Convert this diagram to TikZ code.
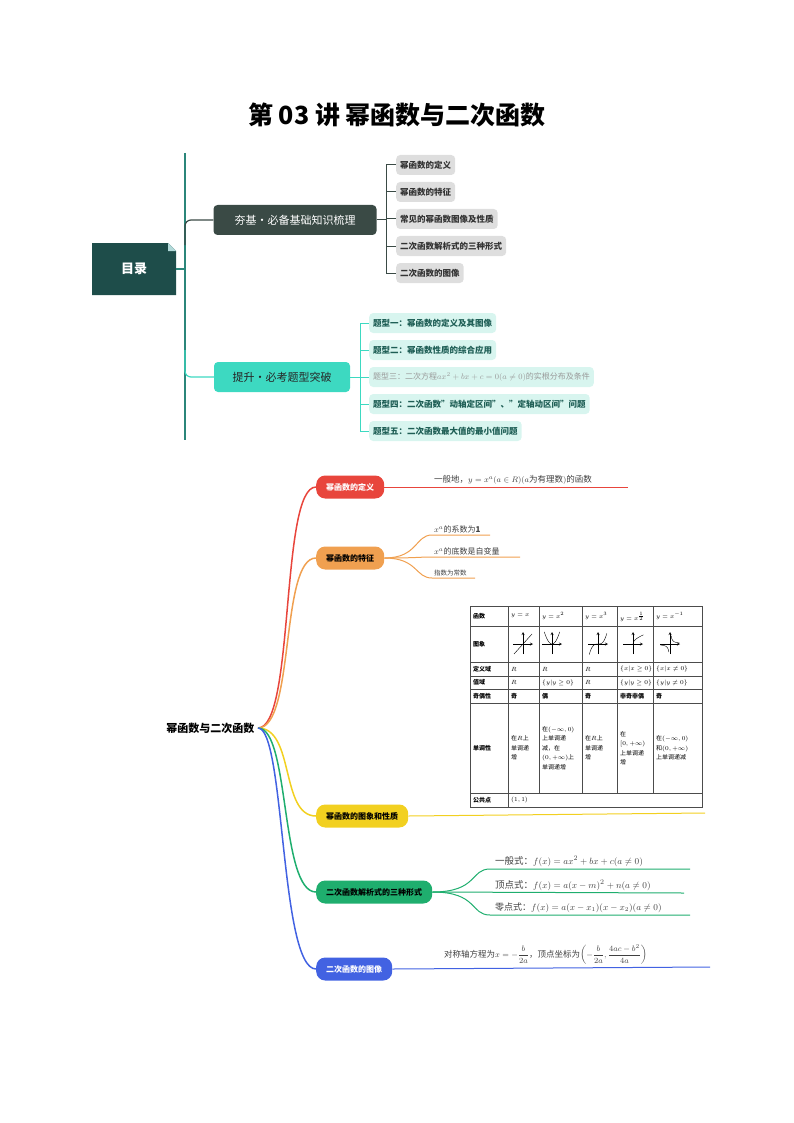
\documentclass[tikz,border=0pt]{standalone}
\usepackage{fontspec}
\usepackage{amsmath}
\setmainfont{Noto Sans CJK SC}
\definecolor{cR}{HTML}{E8453C}\definecolor{cO}{HTML}{F0A050}\definecolor{cY}{HTML}{F2D020}
\definecolor{cG}{HTML}{1FAE6E}\definecolor{cB}{HTML}{4262E2}
\definecolor{tocDark}{HTML}{1E4D4A}\definecolor{bOne}{HTML}{3A4A45}\definecolor{bTwo}{HTML}{3DD9C1}
\definecolor{tLight}{HTML}{D8F5EF}\definecolor{tText}{HTML}{1E5E55}\definecolor{lineT}{HTML}{3DBFAE}
\begin{document}
\begin{tikzpicture}[x=1pt,y=-1pt,
  tocA/.style={fill=black!13,rounded corners=4pt,inner xsep=4pt,anchor=west,font=\fontsize{8.5}{9}\selectfont\bfseries,text=black!80,minimum height=20pt},
  tocB/.style={fill=tLight,rounded corners=4pt,inner xsep=4pt,anchor=west,font=\fontsize{8.5}{9}\selectfont\bfseries,text=tText,minimum height=20pt},
  mm/.style={rounded corners=9pt,minimum height=23pt,font=\fontsize{8}{9}\selectfont\bfseries,anchor=west,inner xsep=10pt},
  lf/.style={font=\fontsize{8.5}{9}\selectfont,anchor=south west,inner sep=1pt,text=black!75},
  tb/.style={font=\fontsize{6}{9.5}\selectfont,inner sep=1pt,align=left}]
\useasboundingbox (0,0) rectangle (794,1123);
\node[font=\fontsize{25}{27}\selectfont\bfseries] (title) at (397,115) {第 03 讲\ 幂函数与二次函数};
% TOC
\draw[lineT!70!black,line width=1.5pt] (185,153) -- (185,440);
\fill[tocDark] (92,243) -- (168,243) -- (176,251) -- (176,295) -- (92,295) -- cycle;
\fill[white!70!teal] (168,243) -- (168,251) -- (176,251) -- cycle;
\node[text=white,font=\fontsize{13}{14}\selectfont\bfseries] (toc) at (134,269) {目录};
\draw[lineT!70!black,line width=1.2pt] (176,269) -- (185,269);
\node[fill=bOne,text=white,rounded corners=4pt,minimum height=30pt,minimum width=163pt,font=\fontsize{11}{12}\selectfont] (b1) at (295,220) {夯基·必备基础知识梳理};
\node[fill=bTwo,text=black!85,rounded corners=4pt,minimum height=30pt,minimum width=136pt,font=\fontsize{11}{12}\selectfont] (b2) at (282,377) {提升·必考题型突破};
\draw[bOne,line width=1.2pt,rounded corners=6pt] (185,245) -- (185,220) -- (b1.west);
\draw[bTwo,line width=1.2pt,rounded corners=6pt] (185,350) -- (185,377) -- (b2.west);
\draw[bOne,line width=1pt] (b1.east) -- (386,220);
\draw[bOne,line width=1pt] (386,165) -- (386,273);
\foreach \t [count=\i] in {幂函数的定义,幂函数的特征,常见的幂函数图像及性质,二次函数解析式的三种形式,二次函数的图像}{
  \node[tocA] (a\i) at (396,138+27*\i) {\t};
  \draw[bOne,line width=1pt] (386,138+27*\i) -- (a\i.west);}
\draw[bTwo,line width=1pt] (b2.east) -- (360,377);
\draw[bTwo,line width=1pt] (360,323) -- (360,431);
\node[tocB] (c1) at (369,323) {题型一：幂函数的定义及其图像};
\node[tocB] (c2) at (369,350) {题型二：幂函数性质的综合应用};
\node[tocB,text=black!40,font=\fontsize{8}{9}\selectfont] (c3) at (369,377) {题型三：二次方程$ax^2+bx+c=0(a\neq0)$的实根分布及条件};
\node[tocB] (c4) at (369,404) {题型四：二次函数"动轴定区间"、"定轴动区间"问题};
\node[tocB] (c5) at (369,431) {题型五：二次函数最大值的最小值问题};
\foreach \i in {1,...,5}{\draw[bTwo,line width=1pt] (360,296+27*\i) -- (c\i.west);}
% mind map
\node[font=\fontsize{11}{12}\selectfont\bfseries,anchor=east] (root) at (258,728) {幂函数与二次函数};
\node[mm,fill=cR,text=white] (m1) at (316,487) {幂函数的定义};
\node[mm,fill=cO,text=black] (m2) at (316,558) {幂函数的特征};
\node[mm,fill=cY,text=black] (m3) at (316,816) {幂函数的图象和性质};
\node[mm,fill=cG,text=black] (m4) at (316,892) {二次函数解析式的三种形式};
\node[mm,fill=cB,text=white] (m5) at (316,969) {二次函数的图像};
\draw[cR,line width=1.5pt] (root.east) .. controls (295,728) and (280,487) .. (m1.west);
\draw[cO,line width=1.5pt] (root.east) .. controls (295,728) and (280,558) .. (m2.west);
\draw[cY,line width=1.5pt] (root.east) .. controls (295,728) and (280,816) .. (m3.west);
\draw[cG,line width=1.5pt] (root.east) .. controls (290,728) and (280,892) .. (m4.west);
\draw[cB,line width=1.5pt] (root.east) .. controls (285,728) and (280,969) .. (m5.west);
% branch 1
\coordinate (e1) at (628,487);
\draw[cR,line width=1pt] (m1.east) -- (e1);
\node[lf] (t1) at (433,486) {一般地，$y=x^a(a\in R)(a$为有理数$)$的函数};
% branch 2
\coordinate (e21) at (490,535);\coordinate (e22) at (520,557);\coordinate (e23) at (475,578);
\draw[cO,line width=1pt] (m2.east) .. controls (418,558) and (415,535) .. (432,535) -- (e21);
\draw[cO,line width=1pt] (m2.east) .. controls (418,558) and (418,557) .. (432,557) -- (e22);
\draw[cO,line width=1pt] (m2.east) .. controls (418,558) and (415,578) .. (432,578) -- (e23);
\node[lf,font=\fontsize{8}{9}\selectfont] (t21) at (433,534) {$x^a$的系数为$\mathbf{1}$};
\node[lf,font=\fontsize{8}{9}\selectfont] (t22) at (433,556) {$x^a$的底数是自变量};
\node[lf,font=\fontsize{6.5}{7}\selectfont] (t23) at (433,577) {指数为常数};
% branch 3
\coordinate (e3) at (705,813);
\draw[cY,line width=1pt] (m3.east) -- (e3);
% table
\draw[black!70,line width=0.5pt] (470,606) rectangle (702,807);
\foreach \y in {626,662,676,689,703,793}{\draw[black!70,line width=0.4pt] (470,\y) -- (702,\y);}
\foreach \x in {508,539,582,617,653}{\draw[black!70,line width=0.4pt] (\x,606) -- (\x,793);}
\draw[black!70,line width=0.4pt] (508,793) -- (508,807);
\foreach \t/\y in {函数/616,图象/644,定义域/669,值域/682.5,奇偶性/696,单调性/748,公共点/800}{\node[tb,anchor=west,font=\fontsize{6}{9}\selectfont\bfseries] at (472,\y) {\t};}
\node[tb,anchor=west] at (510,616) {$y=x$};
\node[tb,anchor=west] at (541,616) {$y=x^2$};
\node[tb,anchor=west] at (584,616) {$y=x^3$};
\node[tb,anchor=west] at (619,617) {$y=x^{\frac12}$};
\node[tb,anchor=west] at (655,616) {$y=x^{-1}$};
\foreach \a/\b/\c/\d/\e/\col in {669/R/R/R/\{x|x\ge0\}/\{x|x\neq0\},682.5/R/\{y|y\ge0\}/R/\{y|y\ge0\}/\{y|y\neq0\}}{
 \node[tb,anchor=west] at (510,\a) {$\b$};\node[tb,anchor=west] at (541,\a) {$\c$};\node[tb,anchor=west] at (584,\a) {$\d$};\node[tb,anchor=west] at (619,\a) {$\e$};\node[tb,anchor=west] at (655,\a) {$\col$};}
\foreach \x/\t in {510/奇,541/偶,584/奇,619/非奇非偶,655/奇}{\node[tb,anchor=west,font=\fontsize{6}{9}\selectfont\bfseries] at (\x,696) {\t};}
\node[tb,anchor=west] at (510,748) {在$R$上\\单调递\\增};
\node[tb,anchor=west] at (541,748) {在$(-\infty,0)$\\上单调递\\减，在\\$(0,+\infty)$上\\单调递增};
\node[tb,anchor=west] at (584,748) {在$R$上\\单调递\\增};
\node[tb,anchor=west] at (619,748) {在\\$[0,+\infty)$\\上单调递\\增};
\node[tb,anchor=west] at (655,748) {在$(-\infty,0)$\\和$(0,+\infty)$\\上单调递减};
\node[tb,anchor=west] at (510,800) {$(1,1)$};
% graphs
\begin{scope}[line width=0.4pt,->,>=stealth]
\foreach \cx in {523,552,598,633,670}{\draw (\cx-10,644) -- (\cx+10,644);\draw (\cx,654) -- (\cx,632);}
\end{scope}
\draw[line width=0.4pt] (514,654) -- (532,634);
\draw[line width=0.4pt,domain=-1.1:1.1,samples=20] plot ({552+7*\x},{644-10*\x*\x+0});
\draw[line width=0.4pt,domain=-1.1:1.1,samples=20] plot ({598+8*\x},{644-8*\x*\x*\x});
\draw[line width=0.4pt,domain=0:1.3,samples=20] plot ({633+8*\x},{644-8*sqrt(\x)});
\draw[line width=0.4pt,domain=0.15:1.2,samples=20] plot ({670+8*\x},{644-1.2/\x});
\draw[line width=0.4pt,domain=0.15:1.2,samples=20] plot ({670-8*\x},{644+1.2/\x});
% branch 4
\coordinate (e41) at (690,869);\coordinate (e42) at (684,893);\coordinate (e43) at (690,915);
\draw[cG,line width=1pt] (m4.east) .. controls (478,892) and (470,869) .. (490,869) -- (e41);
\draw[cG,line width=1pt] (m4.east) -- (e42);
\draw[cG,line width=1pt] (m4.east) .. controls (478,892) and (470,915) .. (490,915) -- (e43);
\node[lf,font=\fontsize{9.5}{10}\selectfont] (t41) at (494,868) {一般式：$f(x)=ax^2+bx+c(a\neq0)$};
\node[lf,font=\fontsize{9.5}{10}\selectfont] (t42) at (494,892) {顶点式：$f(x)=a(x-m)^2+n(a\neq0)$};
\node[lf,font=\fontsize{9}{10}\selectfont] (t43) at (494,914) {零点式：$f(x)=a(x-x_1)(x-x_2)(a\neq0)$};
% branch 5
\coordinate (e5) at (710,967);
\draw[cB,line width=1pt] (m5.east) -- (e5);
\node[lf,font=\fontsize{8.5}{9}\selectfont] (t5) at (443,966) {对称轴方程为$x=-\dfrac{b}{2a}$，顶点坐标为$\left(-\dfrac{b}{2a},\dfrac{4ac-b^2}{4a}\right)$};
\end{tikzpicture}
\end{document}
